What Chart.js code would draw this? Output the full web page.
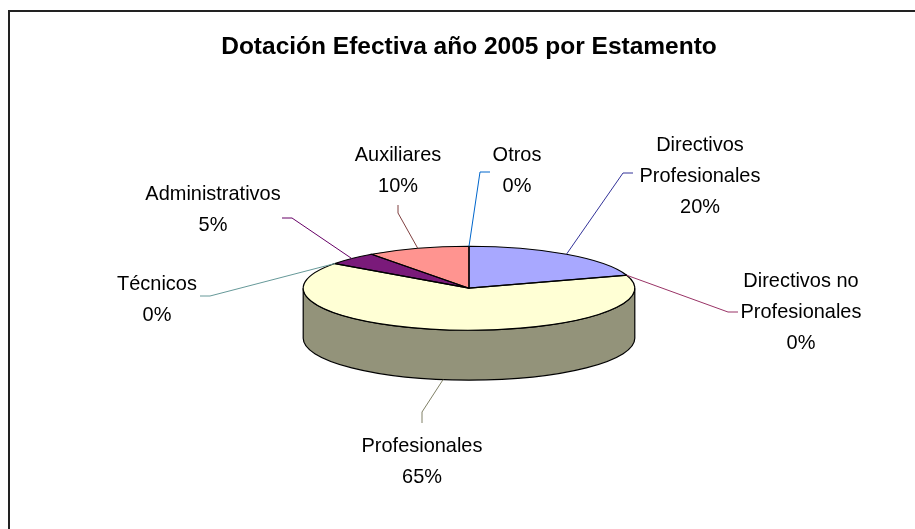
<!DOCTYPE html>
<html>
<head>
<meta charset="utf-8">
<title>Dotación Efectiva año 2005 por Estamento</title>
<script src="https://cdn.jsdelivr.net/npm/chart.js@4.4.1/dist/chart.umd.min.js"></script>
<style>
  html, body { margin: 0; padding: 0; background: #fff; }
  canvas { display: block; }
</style>
</head>
<body>
<canvas id="chart" width="915" height="529"></canvas>
<script>
// chart data
const categories = [
    ['Directivos', 'Profesionales'],
    ['Directivos no', 'Profesionales'],
    ['Profesionales'],
    ['Técnicos'],
    ['Administrativos'],
    ['Auxiliares'],
    ['Otros']
];
const values = [20, 0, 65, 0, 5, 10, 0];
const sliceColors = ['#A8A8FF', '#993366', '#FFFFD5', '#CCFFFF', '#7A1A7A', '#FF9490', '#0066CC'];
const leaderColors = ['#333399', '#993366', '#808066', '#669999', '#660066', '#804040', '#0066CC'];

// label placement: centre x, first baseline, and the bend of each leader line
const labelLayout = [
    {x: 700, y: 151, elbow: [623, 173], end: [633, 173]},
    {x: 801, y: 287, elbow: [728, 312], end: [738, 312]},
    {x: 422, y: 452, elbow: [422, 412], end: [422, 423]},
    {x: 157, y: 290, elbow: [210, 296], end: [200, 296]},
    {x: 213, y: 200, elbow: [292, 218], end: [282, 218]},
    {x: 398, y: 161, elbow: [398, 213], end: [398, 205]},
    {x: 517, y: 161, elbow: [480, 172], end: [490, 172]}
];

const tilt = 42 / 166;   // vertical squash of the pie
const depth = 50;        // height of the pie wall
const lineGap = 31;

function shade(hex, f) {
    let n = parseInt(hex.slice(1), 16);
    let r = Math.round(((n >> 16) & 255) * f);
    let g = Math.round(((n >> 8) & 255) * f);
    let b = Math.round((n & 255) * f);
    return 'rgb(' + r + ',' + g + ',' + b + ')';
}

const pie3d = {
    id: 'pie3d',
    beforeDraw(chart) {
        let ctx = chart.ctx;
        ctx.save();
        ctx.fillStyle = '#fff';
        ctx.fillRect(0, 0, chart.width, chart.height);
        ctx.strokeStyle = '#222';
        ctx.lineWidth = 2;
        ctx.strokeRect(9, 11, 1000, 1000);
        ctx.restore();
    },
    beforeDatasetsDraw(chart) {
        let ctx = chart.ctx;
        let arcs = chart.getDatasetMeta(0).data;
        let cx = arcs[0].x, cy = arcs[0].y, r = arcs[0].outerRadius;
        // front wall of the pie
        ctx.save();
        arcs.forEach((arc, i) => {
            [-2 * Math.PI, 0, 2 * Math.PI].forEach(off => {
                let a1 = Math.max(arc.startAngle + off, 0);
                let a2 = Math.min(arc.endAngle + off, Math.PI);
                if (a2 <= a1) return;
                ctx.beginPath();
                ctx.ellipse(cx, cy, r, r * tilt, 0, a1, a2);
                ctx.ellipse(cx, cy + depth, r, r * tilt, 0, a2, a1, true);
                ctx.closePath();
                ctx.fillStyle = shade(sliceColors[i], 0.575);
                ctx.fill();
                ctx.strokeStyle = '#000';
                ctx.lineWidth = 1.2;
                ctx.stroke();
            });
        });
        ctx.restore();
        // squash the top face drawn by Chart.js
        ctx.save();
        ctx.translate(cx, cy);
        ctx.scale(1, tilt);
        ctx.translate(-cx, -cy);
    },
    afterDatasetsDraw(chart) {
        let ctx = chart.ctx;
        ctx.restore();
        let arcs = chart.getDatasetMeta(0).data;
        let cx = arcs[0].x, cy = arcs[0].y, r = arcs[0].outerRadius;
        ctx.save();
        ctx.strokeStyle = '#000';
        ctx.lineWidth = 1.2;
        arcs.forEach(arc => {
            if (arc.endAngle - arc.startAngle <= 0) return;
            ctx.beginPath();
            ctx.moveTo(cx, cy);
            ctx.ellipse(cx, cy, r, r * tilt, 0, arc.startAngle, arc.endAngle);
            ctx.closePath();
            ctx.stroke();
        });
        ctx.restore();
    },
    afterDraw(chart) {
        let ctx = chart.ctx;
        let arcs = chart.getDatasetMeta(0).data;
        let cx = arcs[0].x, cy = arcs[0].y, r = arcs[0].outerRadius;
        let total = values.reduce((a, b) => a + b, 0);
        ctx.save();
        arcs.forEach((arc, i) => {
            let mid = (arc.startAngle + arc.endAngle) / 2;
            let px = cx + r * Math.cos(mid);
            let py = cy + r * tilt * Math.sin(mid);
            if (Math.sin(mid) > 0.05) py += depth;
            let lay = labelLayout[i];
            ctx.beginPath();
            ctx.moveTo(px, py);
            ctx.lineTo(lay.elbow[0], lay.elbow[1]);
            ctx.lineTo(lay.end[0], lay.end[1]);
            ctx.strokeStyle = leaderColors[i];
            ctx.lineWidth = 1;
            ctx.stroke();

            let lines = categories[i].concat([Math.round(values[i] / total * 100) + '%']);
            ctx.fillStyle = '#000';
            ctx.font = '21px "Liberation Sans", Arial, sans-serif';
            ctx.textAlign = 'center';
            ctx.textBaseline = 'alphabetic';
            lines.forEach((t, j) => {
                // slightly narrow text, like the original
                ctx.save();
                ctx.translate(lay.x, lay.y + j * lineGap);
                ctx.scale(0.95, 1);
                ctx.fillText(t, 0, 0);
                ctx.restore();
            });
        });
        ctx.restore();
    }
};

let ctx = document.getElementById('chart').getContext('2d');
let mychart = new Chart(ctx, {
    type: 'pie',
    data: {
        labels: categories,
        datasets: [{
            data: values,
            backgroundColor: sliceColors,
            borderWidth: 0
        }]
    },
    options: {
        responsive: false,
        animation: false,
        layout: {
            padding: {top: 33, bottom: 75, left: 23, right: 0}
        },
        plugins: {
            legend: {display: false},
            tooltip: {enabled: false},
            title: {
                display: true,
                text: 'Dotación Efectiva año 2005 por Estamento',
                color: '#000',
                font: {family: '"Liberation Sans", Arial, sans-serif', size: 24.5, weight: 'bold', lineHeight: 1.2},
                padding: {top: 0, bottom: 60}
            }
        }
    },
    plugins: [pie3d]
});
</script>
</body>
</html>
